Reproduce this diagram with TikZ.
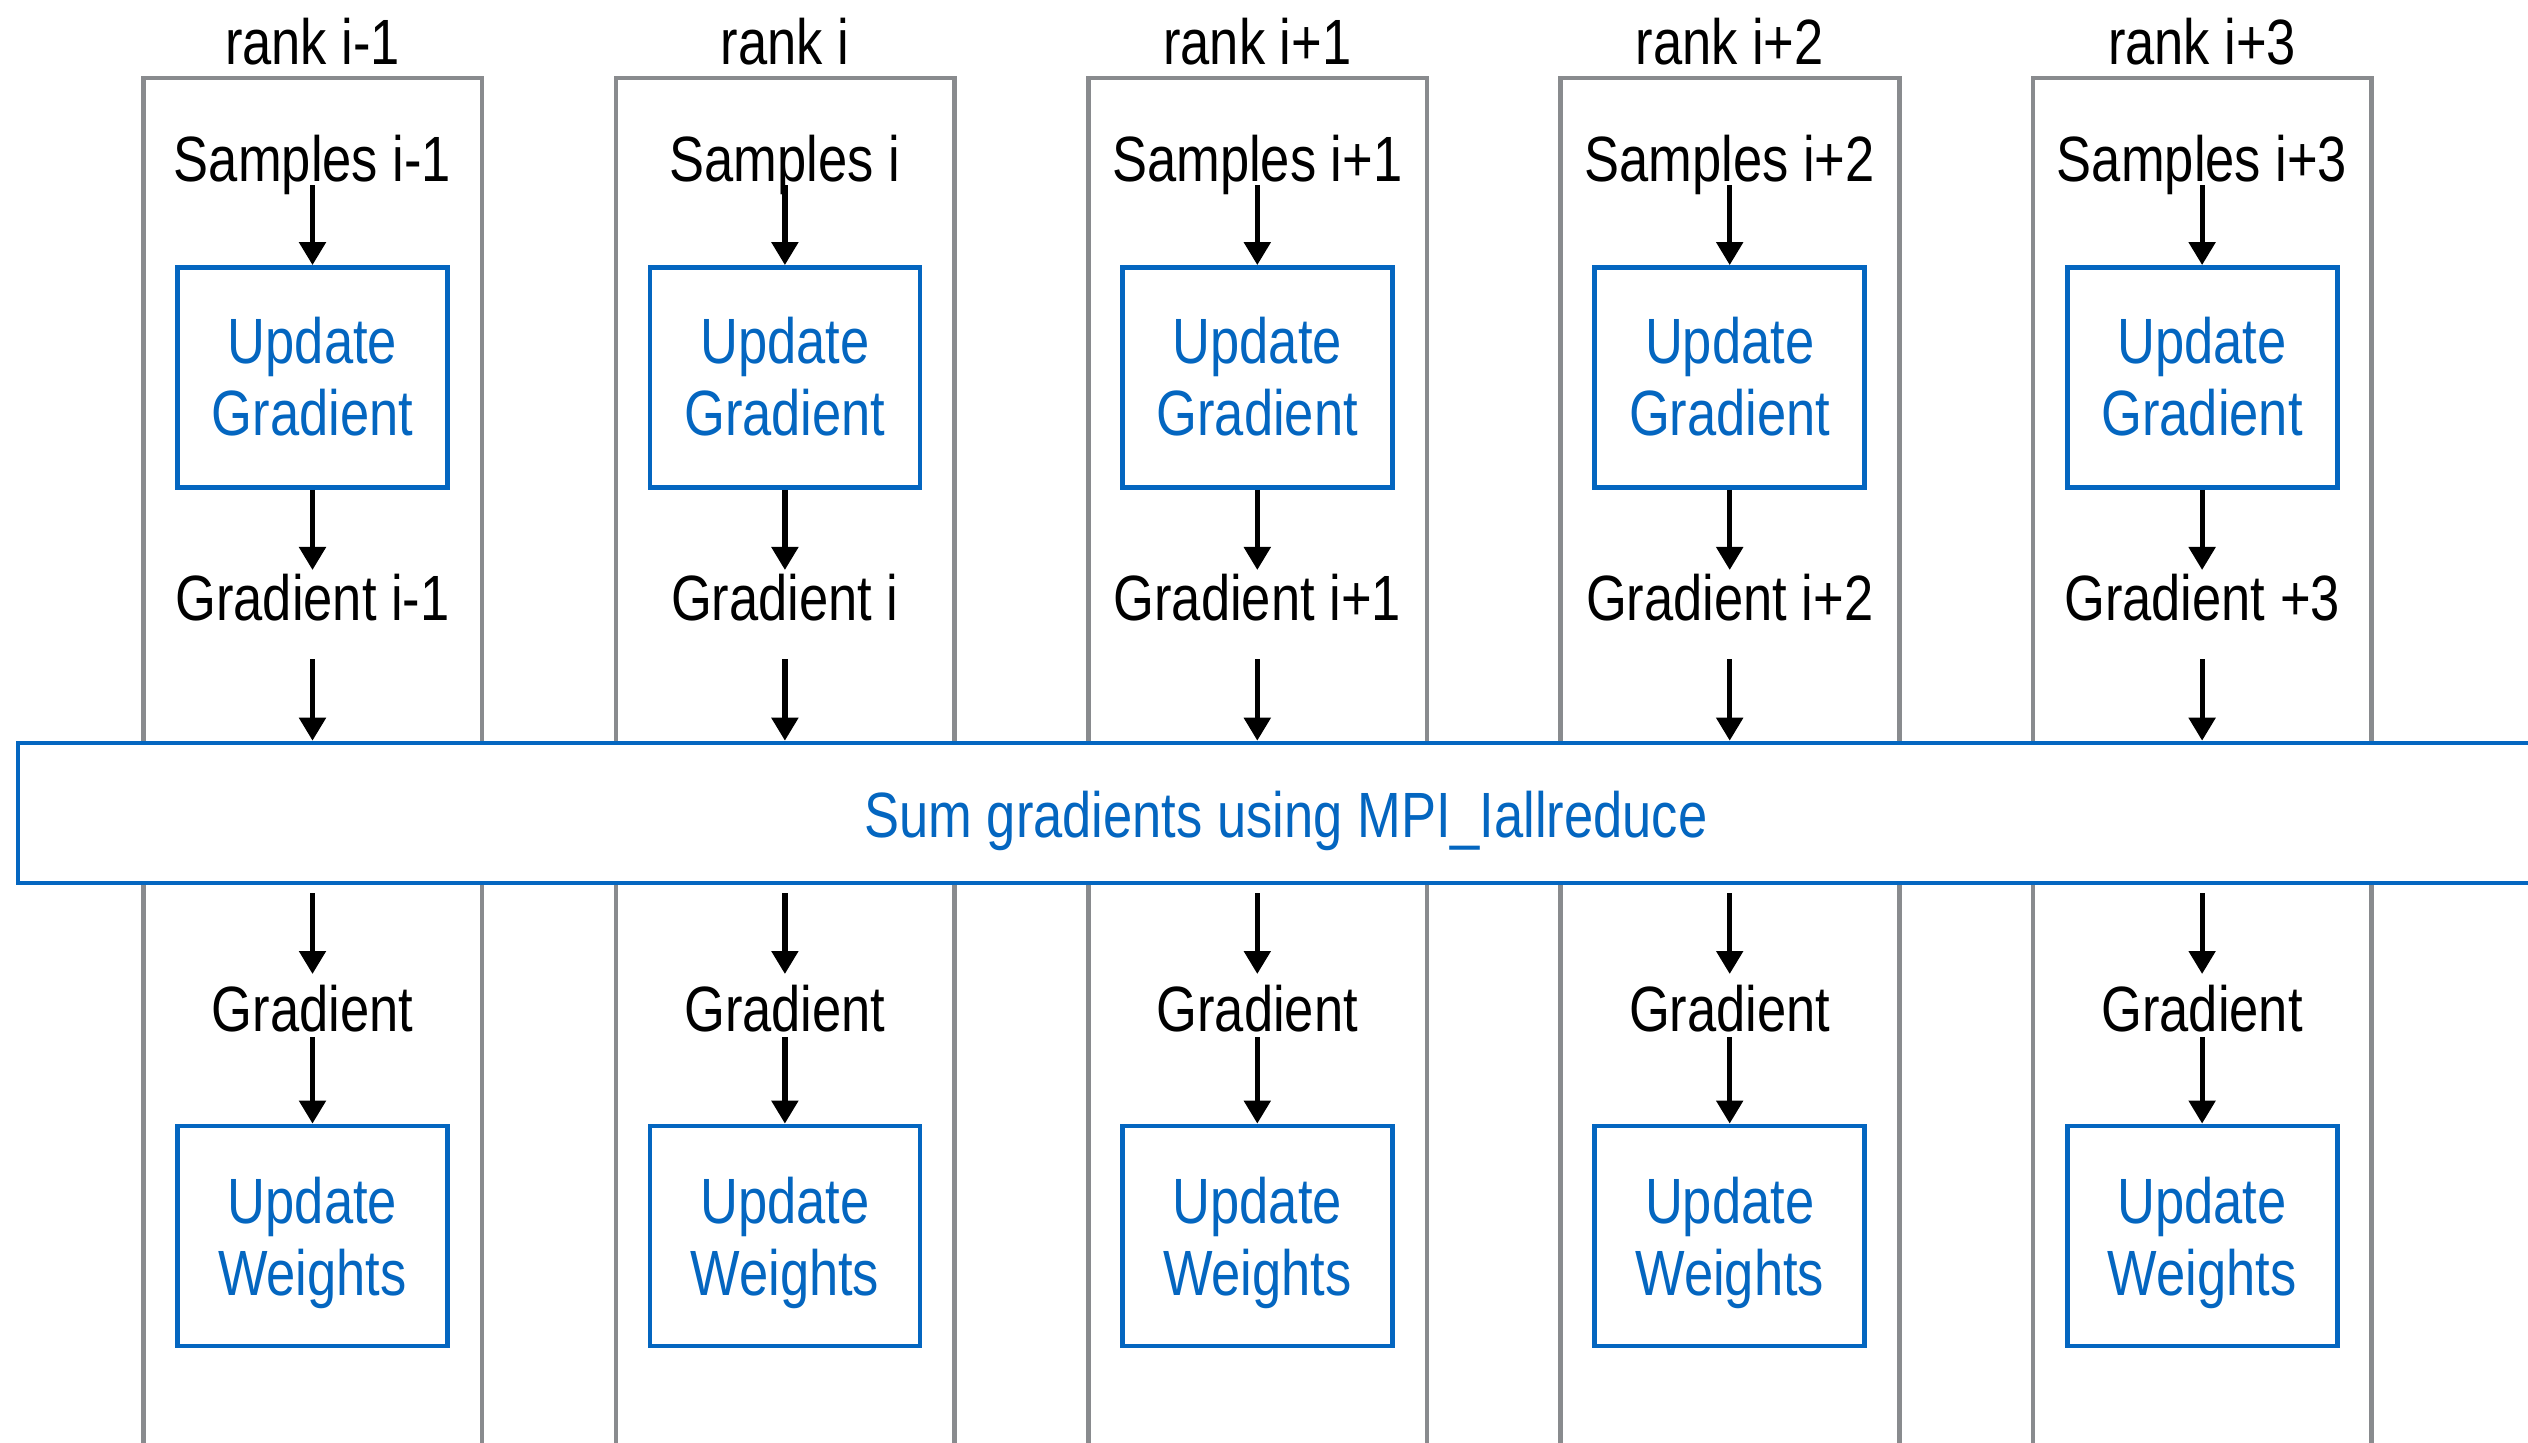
\documentclass[tikz,border=0pt]{standalone}
\usepackage{fontspec}
\setmainfont[FakeStretch=0.82]{Liberation Sans}
\usetikzlibrary{arrows.meta}
\definecolor{colgray}{RGB}{137,139,142}
\definecolor{mblue}{RGB}{4,102,192}
\begin{document}
\begin{tikzpicture}[x=0.5pt,y=-0.5pt,
  lbl/.style={inner sep=0pt,text height=22.8pt,text depth=0pt,anchor=base,font=\fontsize{32}{36}\selectfont},
  btxt/.style={lbl,text=mblue},
  stepbox/.style={draw=mblue,line width=2.4pt,minimum width=135pt,minimum height=110pt,inner sep=0pt},
  column/.style={draw=colgray,line width=2.3pt},
  arr/.style={-{Triangle[length=11.5pt,width=13pt]},line width=2.6pt,black}]
\useasboundingbox (0,0) rectangle (2528,1443);
\clip (0,0) rectangle (2528,1443);
\fill[white] (0,0) rectangle (2528,1443);
\foreach \k in {0,...,4}{
  \draw[column] ({143.5+472.4*\k},78) rectangle ({482+472.4*\k},1520);
}
\node[stepbox,minimum width=1267pt,minimum height=70pt,fill=white,line width=2.3pt] (bar) at (1285,813) {};
\node[btxt] (bartext) at (1286,837) {Sum gradients using MPI\_Iallreduce};
\foreach \k/\r/\g in {0/i-1/i-1,1/i/i,2/i+1/i+1,3/i+2/i+2,4/i+3/+3}{
  \pgfmathsetmacro{\cx}{312.5+472.4*\k}
  \node[lbl] (rank\k) at (\cx,65) {rank \r};
  \node[lbl] (samp\k) at (\cx,182) {Samples \r};
  \node[stepbox] (ug\k) at (\cx,377.5) {};
  \node[btxt] (ugA\k) at (\cx,364) {Update};
  \node[btxt] (ugB\k) at (\cx,436) {Gradient};
  \node[lbl] (grad\k) at (\cx,621) {Gradient \g};
  \node[lbl] (gsum\k) at (\cx,1031) {Gradient};
  \node[stepbox] (uw\k) at (\cx,1236) {};
  \node[btxt] (uwA\k) at (\cx,1223) {Update};
  \node[btxt] (uwB\k) at (\cx,1295) {Weights};
  \draw[arr,shorten <=1.5pt] (samp\k.south) -- (ug\k.north);
  \draw[arr,shorten >=2.5pt] (ug\k.south) -- (grad\k.north);
  \draw[arr,shorten <=19pt] (grad\k.south) -- (bar.north -| grad\k.south);
  \draw[arr,shorten <=4pt,shorten >=5.5pt] (bar.south -| gsum\k.north) -- (gsum\k.north);
  \draw[arr,shorten <=3pt] (gsum\k.south) -- (uw\k.north);
}
\end{tikzpicture}
\end{document}
